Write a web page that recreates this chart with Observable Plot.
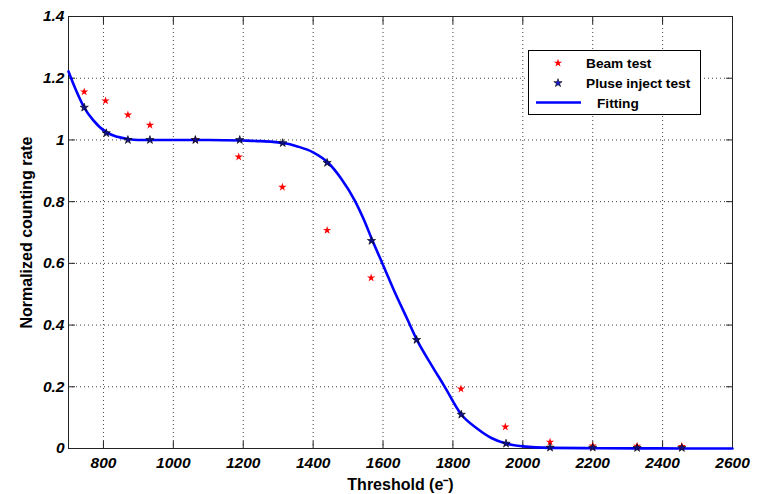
<!DOCTYPE html>
<html><head><meta charset="utf-8">
<script src="https://cdn.jsdelivr.net/npm/d3@7"></script>
<script src="https://cdn.jsdelivr.net/npm/@observablehq/plot@0.6"></script>
<style>
body{margin:0;background:#fff;}
#wrap{position:relative;width:760px;height:494px;}
#legend{position:absolute;left:528px;top:50px;width:173px;height:65px;box-sizing:border-box;border:1px solid #000;background:#fff;}
#legend svg{display:block;}
</style></head><body><div id="wrap"></div>
<script>
// Tick values and labels
const xTicks = [800, 1000, 1200, 1400, 1600, 1800, 2000, 2200, 2400, 2600];
const xTickLabels = ["800", "1000", "1200", "1400", "1600", "1800", "2000", "2200", "2400", "2600"];
const yTicks = [0, 0.2, 0.4, 0.6, 0.8, 1, 1.2, 1.4];
const yTickLabels = ["0", "0.2", "0.4", "0.6", "0.8", "1", "1.2", "1.4"];

// Beam test (red stars)
const beamX = [745, 806, 870, 933, 1063, 1187, 1312, 1440, 1566, 1823, 1950, 2078, 2200, 2327, 2455];
const beamY = [1.156, 1.127, 1.081, 1.048, 1.0, 0.945, 0.847, 0.707, 0.553, 0.193, 0.07, 0.021, 0.009, 0.008, 0.007];

// Pulse inject test (dark stars)
const pulseX = [745, 808, 870, 933, 1063, 1190, 1313, 1440, 1567, 1696, 1824, 1952, 2078, 2200, 2327, 2455];
const pulseY = [1.105, 1.022, 1.0, 1.0, 1.0, 1.0, 0.99, 0.926, 0.673, 0.352, 0.110, 0.016, 0.003, 0.003, 0.002, 0.002];

// Fitting curve
const fitX = [700, 720, 745, 770, 808, 840, 870, 900, 950, 1000, 1100, 1200, 1250, 1315, 1355, 1400, 1443, 1480, 1520, 1545, 1570, 1600, 1635, 1670, 1697, 1740, 1775, 1824, 1870, 1910, 1952, 2000, 2078, 2200, 2327, 2455, 2600];
const fitY = [1.222, 1.165, 1.105, 1.065, 1.025, 1.01, 1.003, 1.0, 1.0, 1.0, 1.0, 0.998, 0.996, 0.99, 0.979, 0.96, 0.926, 0.875, 0.802, 0.742, 0.673, 0.595, 0.503, 0.418, 0.352, 0.268, 0.203, 0.110, 0.064, 0.034, 0.016, 0.007, 0.002, 0.001, 0.0005, 0.0002, 0];

const beam = beamX.map((x, i) => ({x, y: beamY[i]}));
const pulse = pulseX.map((x, i) => ({x, y: pulseY[i]}));
const fit = fitX.map((x, i) => ({x, y: fitY[i]}));

const gridStyle = {stroke: "#444", strokeOpacity: 1, strokeDasharray: "1,3"};
const xGrid = xTicks.filter(d => d < 2600);
const yGrid = yTicks.filter(d => d > 0 && d < 1.4);

const chart = Plot.plot({
  width: 760, height: 494,
  marginLeft: 68, marginRight: 28, marginTop: 16, marginBottom: 46,
  style: {fontFamily: "'Liberation Sans', Arial, sans-serif", fontSize: "15.5px", fontWeight: "bold", color: "#000", background: "transparent", overflow: "visible"},
  x: {domain: [700, 2600]},
  y: {domain: [0, 1.4]},
  marks: [
    Plot.gridX(xGrid, gridStyle),
    Plot.gridY(yGrid, gridStyle),
    // tick labels (bold italic)
    Plot.axisX(xTicks, {anchor: "bottom", tickSize: 0, tickPadding: 8, fontStyle: "italic", tickFormat: d => xTickLabels[xTicks.indexOf(d)], label: null}),
    Plot.axisY(yTicks, {anchor: "left", tickSize: 0, tickPadding: 4, fontStyle: "italic", tickFormat: d => yTickLabels[yTicks.indexOf(d)], label: null}),
    // inward ticks on all sides
    Plot.axisX(xTicks, {anchor: "bottom", tickSize: 7, dy: -7, tickFormat: () => "", label: null, stroke: "#222"}),
    Plot.axisX(xTicks, {anchor: "top", tickSize: 7, dy: 7, tickFormat: () => "", label: null, stroke: "#222"}),
    Plot.axisY(yTicks, {anchor: "left", tickSize: 7, dx: 7, tickFormat: () => "", label: null, stroke: "#222"}),
    Plot.axisY(yTicks, {anchor: "right", tickSize: 7, dx: -7, tickFormat: () => "", label: null, stroke: "#222"}),
    // axis titles
    Plot.axisX({anchor: "bottom", ticks: [], label: "Threshold (e\u207B)", labelAnchor: "center", labelArrow: "none", labelOffset: 41, fontSize: 16}),
    Plot.axisY({anchor: "left", ticks: [], label: "Normalized counting rate", labelAnchor: "center", labelArrow: "none", labelOffset: 48, fontSize: 16}),
    Plot.frame({stroke: "#222"}),
    Plot.line(fit, {x: "x", y: "y", stroke: "#0000ff", strokeWidth: 2.6, curve: "monotone-x"}),
    Plot.dot(beam, {x: "x", y: "y", symbol: "star", fill: "#ff0000", r: 2.6}),
    Plot.dot(pulse, {x: "x", y: "y", symbol: "star", fill: "#10108a", stroke: "#000", strokeWidth: 0.6, r: 2.6})
  ]
});
document.getElementById("wrap").appendChild(chart);

// Legend overlay
const legendItems = ["Beam test", "Pluse inject test", "Fitting"];
const legend = document.createElement("div");
legend.id = "legend";
const starPath = d3.symbol(d3.symbolStar, Math.PI * 2.6 * 2.6)();
legend.innerHTML = `<svg width="171" height="63" font-family="'Liberation Sans', Arial, sans-serif" font-size="13.7" font-weight="bold">
  <path d="${starPath}" transform="translate(29,12)" fill="#ff0000"/>
  <text x="57" y="17">${legendItems[0]}</text>
  <path d="${starPath}" transform="translate(29,32)" fill="#1a1ad0" stroke="#000" stroke-width="0.6"/>
  <text x="57" y="37">${legendItems[1]}</text>
  <line x1="7" x2="52" y1="51.5" y2="51.5" stroke="#0000ff" stroke-width="2.6"/>
  <text x="68" y="56.5">${legendItems[2]}</text>
</svg>`;
document.getElementById("wrap").appendChild(legend);
</script></body></html>
